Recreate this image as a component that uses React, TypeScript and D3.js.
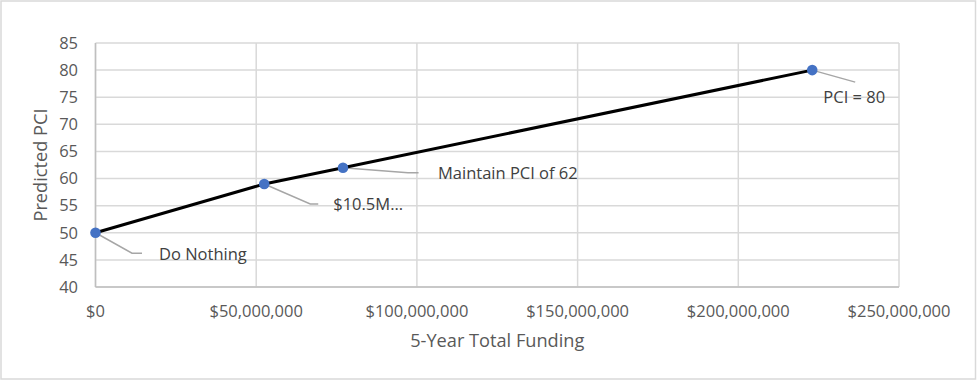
import React from "react";
import * as d3 from "d3";

const funding = [0, 52.5e6, 77e6, 223e6];
const pci = [50, 59, 62, 80];
const pointLabels = ["Do Nothing", "$10.5M...", "Maintain PCI of 62", "PCI = 80"];
const xTicks = [0, 50e6, 100e6, 150e6, 200e6, 250e6];
const yTicks = [40, 45, 50, 55, 60, 65, 70, 75, 80, 85];
const xTitle = "5-Year Total Funding";
const yTitle = "Predicted PCI";

// leader layout: elbow (dx,dy), horizontal end dx, text x offset, text y offset, anchor
const leaders = [
  { ex: 36.5, ey: 20.5, hx: 46.5, tx: 63.5, ty: 21, anchor: "start" },
  { ex: 46, ey: 20, hx: 54, tx: 69, ty: 20, anchor: "start" },
  { ex: 65, ey: 5, hx: 75.6, tx: 95, ty: 6, anchor: "start" },
  { ex: 43, ey: 12, hx: 43, tx: 42, ty: 27.5, anchor: "middle" },
];

const W = 977;
const H = 381;
const FONT = "'Open Sans', sans-serif";

export default function App() {
  const x = d3.scaleLinear().domain([0, 250e6]).range([95.5, 899]);
  const y = d3.scaleLinear().domain([40, 85]).range([287, 43]);
  const fmt = (v: number) => "$" + d3.format(",")(v);
  const pts = funding.map((f, i) => [x(f), y(pci[i])] as [number, number]);
  const line = d3.line()(pts) || "";

  return (
    <svg
      width={W}
      height={H}
      style={{ position: "absolute", left: 0, top: 0, fontFamily: FONT }}
    >
      <rect x={0} y={0} width={W} height={H} fill="#fff" />
      <rect x={1} y={1} width={974.5} height={378} fill="#fff" stroke="#d9d9d9" strokeWidth={1.5} />
      {/* gridlines */}
      {yTicks.map((t) => (
        <line key={"gy" + t} x1={x(0)} x2={x(250e6)} y1={y(t)} y2={y(t)} stroke="#d9d9d9" strokeWidth={1.5} />
      ))}
      {xTicks.map((t) => (
        <line key={"gx" + t} x1={x(t)} x2={x(t)} y1={y(85)} y2={y(40)} stroke="#d9d9d9" strokeWidth={1.5} />
      ))}
      <line x1={x(0)} x2={x(250e6)} y1={y(40)} y2={y(40)} stroke="#bfbfbf" strokeWidth={1.5} />
      <line x1={x(0)} x2={x(0)} y1={y(85)} y2={y(40)} stroke="#bfbfbf" strokeWidth={1.5} />
      {/* tick labels */}
      {yTicks.map((t) => (
        <text key={"ty" + t} x={78} y={y(t)} dy="0.35em" textAnchor="end" fontSize={16.5} fill="#595959">
          {t}
        </text>
      ))}
      {xTicks.map((t) => (
        <text key={"tx" + t} x={x(t)} y={311.5} dy="0.35em" textAnchor="middle" fontSize={16.5} fill="#595959">
          {fmt(t)}
        </text>
      ))}
      {/* axis titles */}
      <text x={(x(0) + x(250e6)) / 2} y={341} dy="0.35em" textAnchor="middle" fontSize={18.2} fill="#595959">
        {xTitle}
      </text>
      <text
        transform={`translate(41,${(y(40) + y(85)) / 2}) rotate(-90)`}
        dy="0.35em"
        textAnchor="middle"
        fontSize={18.2}
        fill="#595959"
      >
        {yTitle}
      </text>
      {/* leader lines */}
      {pts.map(([px, py], i) => {
        const l = leaders[i];
        return (
          <polyline
            key={"ld" + i}
            points={`${px},${py} ${px + l.ex},${py + l.ey} ${px + l.hx},${py + l.ey}`}
            fill="none"
            stroke="#a6a6a6"
            strokeWidth={1.5}
          />
        );
      })}
      {/* series line */}
      <path d={line} fill="none" stroke="#000" strokeWidth={3} />
      {pts.map(([px, py], i) => (
        <circle key={"pt" + i} cx={px} cy={py} r={5.3} fill="#4472c4" />
      ))}
      {/* data labels */}
      {pts.map(([px, py], i) => {
        const l = leaders[i];
        return (
          <text
            key={"lb" + i}
            x={px + l.tx}
            y={py + l.ty}
            dy="0.35em"
            textAnchor={l.anchor as any}
            fontSize={16.5}
            fill="#404040"
          >
            {pointLabels[i]}
          </text>
        );
      })}
    </svg>
  );
}
